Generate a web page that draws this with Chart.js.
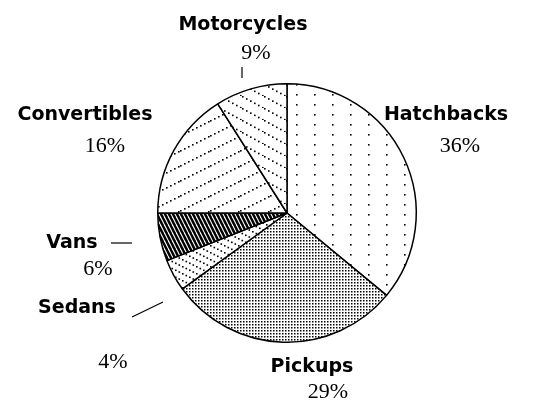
<!DOCTYPE html>
<html>
<head>
<meta charset="utf-8">
<script src="https://cdn.jsdelivr.net/npm/chart.js@4"></script>
<style>
  html, body { margin: 0; padding: 0; background: #fff; }
  #wrap { width: 559px; height: 404px; }
</style>
</head>
<body>
<div id="wrap"><canvas id="grafik" width="559" height="404"></canvas></div>
<script>
// data
var categories = ['Hatchbacks', 'Pickups', 'Sedans', 'Vans', 'Convertibles', 'Motorcycles'];
var shares = [36, 29, 4, 6, 16, 9];

// tile patterns, black on white like the old b/w print
function tile(w, h, paint) {
    var c = document.createElement('canvas');
    c.width = w;
    c.height = h;
    var g = c.getContext('2d');
    g.fillStyle = '#fff';
    g.fillRect(0, 0, w, h);
    g.fillStyle = '#000';
    g.strokeStyle = '#000';
    paint(g, w, h);
    return document.getElementById('grafik').getContext('2d').createPattern(c, 'repeat');
}

// dotted diagonal line, dir 1 = rising, -1 = falling (slope h/w)
function dottedDiag(w, h, step, dir) {
    return tile(w, h, function (g) {
        for (var x = 0; x < w; x += step) {
            var y = dir > 0 ? h - x * h / w : x * h / w;
            g.fillRect(x, y % h, 1.6, 1.6);
        }
    });
}

var hatchDots = tile(18, 10, function (g) {
    g.fillRect(8, 4, 1.6, 1.6);
});
var pickupDots = tile(3, 3, function (g) {
    g.fillRect(0, 0, 1.5, 1.5);
});
var sedanLines = dottedDiag(14, 7, 3.5, -1);
var vanHatch = tile(4, 8, function (g, w, h) {
    g.fillRect(0, 0, w, h);
    g.strokeStyle = '#fff';
    g.lineWidth = 1.1;
    for (var k = -1; k <= 1; k++) {
        g.beginPath();
        g.moveTo(k * w, 0);
        g.lineTo(k * w + w, h);
        g.stroke();
    }
});
var convLines = dottedDiag(30, 15, 4, 1);
var motoLines = dottedDiag(22, 12, 4, -1);

var fills = [hatchDots, pickupDots, sedanLines, vanHatch, convLines, motoLines];

// where the captions sit (page pixels), leader lines for the small ones
var labelSpots = [
    { name: [446, 115], pct: [460, 146] },
    { name: [312, 367], pct: [328, 392] },
    { name: [77, 308], pct: [113, 362], line: [132, 317, 163, 302] },
    { name: [72, 243], pct: [98, 269], line: [111, 243, 132, 243] },
    { name: [85, 115], pct: [105, 146] },
    { name: [243, 25], pct: [256, 53], line: [242, 67, 242, 78] }
];

var captions = {
    id: 'captions',
    afterDraw: function (chart) {
        var ctx = chart.ctx;
        ctx.save();
        ctx.fillStyle = '#000';
        ctx.strokeStyle = '#000';
        ctx.lineWidth = 1.2;
        ctx.textAlign = 'center';
        ctx.textBaseline = 'middle';
        labelSpots.forEach(function (s, i) {
            ctx.font = 'bold 19px "DejaVu Sans"';
            ctx.fillText(categories[i], s.name[0], s.name[1]);
            ctx.font = '22px "Liberation Serif"';
            ctx.fillText(shares[i] + '%', s.pct[0], s.pct[1]);
            if (s.line) {
                ctx.beginPath();
                ctx.moveTo(s.line[0], s.line[1]);
                ctx.lineTo(s.line[2], s.line[3]);
                ctx.stroke();
            }
        });
        ctx.restore();
    }
};

var ctx = document.getElementById('grafik').getContext('2d');
var chart = new Chart(ctx, {
    type: 'pie',
    data: {
        labels: categories,
        datasets: [{
            data: shares,
            backgroundColor: fills,
            borderColor: '#000',
            borderWidth: 1.5
        }]
    },
    options: {
        responsive: false,
        animation: false,
        layout: {
            padding: { top: 83, bottom: 61, left: 30, right: 15 }
        },
        plugins: {
            legend: { display: false },
            tooltip: { enabled: false }
        }
    },
    plugins: [captions]
});
</script>
</body>
</html>
